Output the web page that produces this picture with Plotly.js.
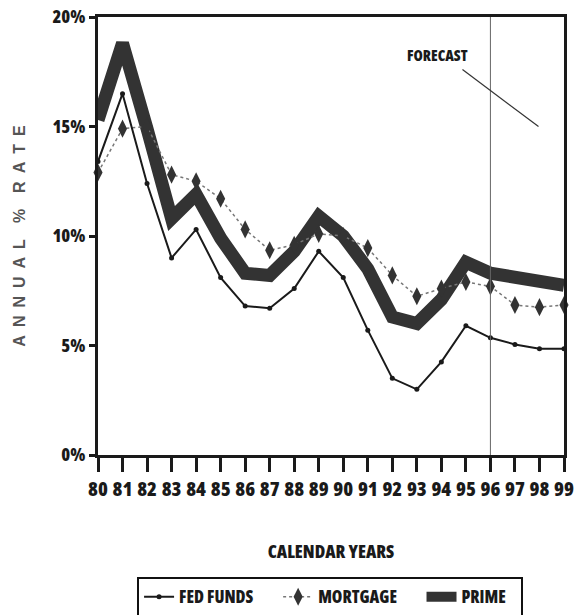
<!DOCTYPE html>
<html>
<head>
<meta charset="utf-8">
<script src="https://cdn.plot.ly/plotly-3.0.1.min.js"></script>
<style>
  html, body { margin: 0; padding: 0; background: #fff; }
  #chart { width: 574px; height: 615px; }
  /* condensed face for the heavy labels */
  #chart .xtick text, #chart .ytick text, #chart .legendtext,
  #chart .annotation-text, #chart .g-xtitle text { font-stretch: 75%; }
</style>
</head>
<body>
<div id="chart"></div>
<script>
// Calendar years (two-digit), 1980-1999; 1996 onward is the forecast period
const years = [80, 81, 82, 83, 84, 85, 86, 87, 88, 89, 90, 91, 92, 93, 94, 95, 96, 97, 98, 99];
const yearLabels = years.map(y => String(y));

// Annual rates, percent
const fedFunds = [13.4, 16.5, 12.4, 9.0, 10.3, 8.1, 6.8, 6.7, 7.6, 9.3, 8.1, 5.7, 3.5, 3.0, 4.25, 5.9, 5.35, 5.05, 4.85, 4.85];
const mortgage = [12.9, 14.9, 15.0, 12.8, 12.5, 11.7, 10.3, 9.35, 9.6, 10.1, 10.0, 9.45, 8.2, 7.25, 7.6, 7.9, 7.7, 6.85, 6.75, 6.85];
const prime    = [15.3, 18.8, 14.9, 10.8, 11.9, 9.9, 8.3, 8.2, 9.3, 10.9, 10.0, 8.5, 6.3, 6.0, 7.1, 8.8, 8.3, 8.1, 7.9, 7.75];

const yTicks = [0, 5, 10, 15, 20];
const forecastStart = 96;

const heavy = { family: '"Open Sans", "DejaVu Sans", sans-serif', weight: 800, color: '#1a1a1a' };

const traces = [
  {
    name: 'FED FUNDS', x: years, y: fedFunds, type: 'scatter', mode: 'lines+markers', cliponaxis: false,
    line: { color: '#1a1a1a', width: 2 },
    marker: { symbol: 'circle', size: 5, color: '#1a1a1a' }
  },
  {
    name: 'MORTGAGE', x: years, y: mortgage, type: 'scatter', mode: 'lines+markers', cliponaxis: false,
    line: { color: '#777', width: 1.5, dash: 'dot' },
    marker: { symbol: 'diamond-tall', size: 13, color: '#333' }
  },
  {
    name: 'PRIME', x: years, y: prime, type: 'scatter', mode: 'lines', cliponaxis: false,
    line: { color: '#333', width: 13 }
  }
];

// draw the thick prime band underneath the other two series
const ordered = [traces[2], traces[1], traces[0]];

const sp = '\u2002';
const yTitle = ['ANNUAL', '%', 'RATE'].map(w => w.split('').join(sp)).join(sp + sp);

const layout = {
  width: 574, height: 615,
  margin: { l: 98, r: 10, t: 17, b: 160, autoexpand: false },
  paper_bgcolor: '#fff', plot_bgcolor: '#fff',
  showlegend: true,
  legend: {
    orientation: 'h', x: 0.498, xanchor: 'center', y: -0.279, yanchor: 'top',
    bordercolor: '#111', borderwidth: 2, bgcolor: '#fff',
    font: Object.assign({}, heavy, { size: 17 }),
    traceorder: 'reversed', itemwidth: 30
  },
  xaxis: {
    range: [80, 99], tickmode: 'array', tickvals: years, ticktext: yearLabels, tickangle: 0,
    ticklabeloverflow: 'allow', automargin: false,
    showgrid: false, zeroline: false,
    showline: true, linecolor: '#1a1a1a', linewidth: 3, mirror: true,
    ticks: 'outside', ticklen: 14, tickwidth: 3, tickcolor: '#1a1a1a',
    tickfont: Object.assign({}, heavy, { size: 20 }),
    title: { text: 'CALENDAR YEARS', font: Object.assign({}, heavy, { size: 18 }), standoff: 45 }
  },
  yaxis: {
    range: [0, 20], tickmode: 'array', tickvals: yTicks, ticktext: yTicks.map(v => v + '%'),
    automargin: false,
    showgrid: false, zeroline: false,
    showline: true, linecolor: '#1a1a1a', linewidth: 3, mirror: true,
    ticks: 'outside', ticklen: 6, tickwidth: 3, tickcolor: '#1a1a1a',
    tickfont: Object.assign({}, heavy, { size: 18 }),
    title: {
      text: yTitle,
      font: { family: '"Liberation Sans", Arial, sans-serif', weight: 700, size: 16, color: '#555' },
      standoff: 18
    }
  },
  shapes: [
    { type: 'line', xref: 'x', yref: 'y', x0: forecastStart, x1: forecastStart, y0: 0, y1: 20,
      line: { color: '#666', width: 1 } },
    { type: 'line', xref: 'x', yref: 'y', x0: 94.86, y0: 17.6, x1: 97.96, y1: 15.0,
      line: { color: '#333', width: 1.2 } }
  ],
  annotations: [
    { text: 'FORECAST', xref: 'x', yref: 'y', x: 93.84, y: 18.26, showarrow: false,
      font: Object.assign({}, heavy, { size: 15 }) }
  ]
};

Plotly.newPlot('chart', ordered, layout, { staticPlot: true, displayModeBar: false });
</script>
</body>
</html>
